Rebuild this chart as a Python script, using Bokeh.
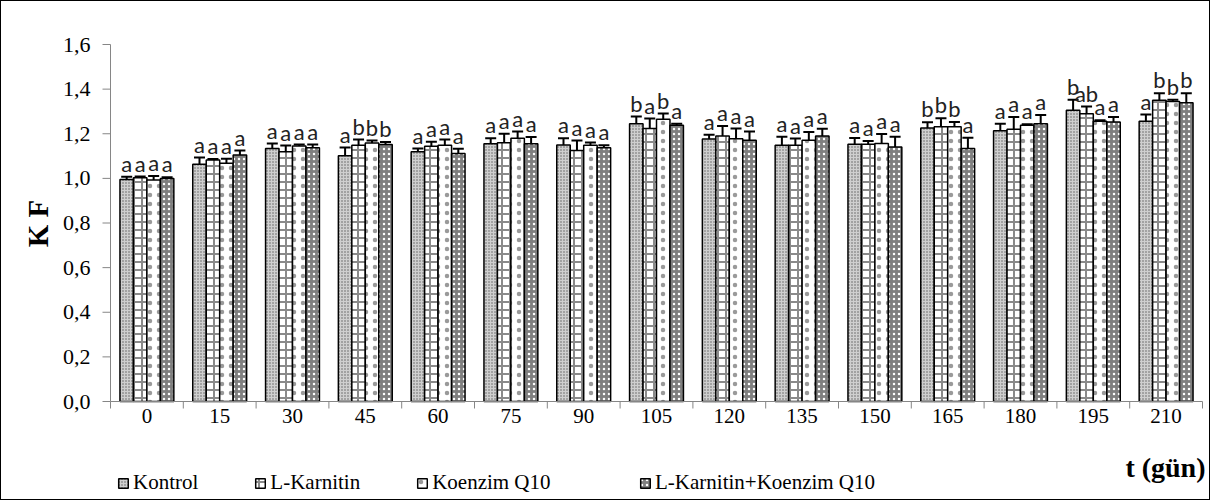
import math
from bokeh.plotting import figure
from bokeh.models import ColumnDataSource, Whisker, TeeHead, Legend
from bokeh.core.properties import value
from bokeh.embed import file_html
from bokeh.resources import INLINE

days = ["0", "15", "30", "45", "60", "75", "90", "105", "120", "135", "150", "165", "180", "195", "210"]
series_names = ["Kontrol", "L-Karnitin", "Koenzim Q10", "L-Karnitin+Koenzim Q10"]

kontrol = [0.995, 1.063, 1.134, 1.101, 1.119, 1.155, 1.150, 1.245, 1.176, 1.149, 1.153, 1.226, 1.213, 1.305, 1.256]
kontrol_sd = [0.012, 0.030, 0.022, 0.037, 0.015, 0.025, 0.030, 0.032, 0.019, 0.037, 0.028, 0.026, 0.032, 0.047, 0.030]
lkarnitin = [1.003, 1.082, 1.119, 1.149, 1.144, 1.160, 1.125, 1.223, 1.190, 1.149, 1.153, 1.231, 1.220, 1.290, 1.350]
lkarnitin_sd = [0.005, 0.005, 0.028, 0.025, 0.020, 0.040, 0.045, 0.045, 0.045, 0.030, 0.015, 0.039, 0.055, 0.032, 0.032]
koenzim = [0.993, 1.068, 1.145, 1.159, 1.149, 1.180, 1.149, 1.265, 1.178, 1.171, 1.156, 1.231, 1.238, 1.256, 1.345]
koenzim_sd = [0.018, 0.020, 0.007, 0.011, 0.025, 0.030, 0.012, 0.026, 0.045, 0.037, 0.043, 0.022, 0.005, 0.004, 0.007]
combo = [1.000, 1.105, 1.137, 1.152, 1.111, 1.155, 1.137, 1.238, 1.171, 1.190, 1.141, 1.134, 1.245, 1.253, 1.339]
combo_sd = [0.005, 0.020, 0.015, 0.011, 0.022, 0.030, 0.011, 0.007, 0.039, 0.032, 0.045, 0.048, 0.039, 0.022, 0.043]

letters_kontrol = ["a", "a", "a", "a", "a", "a", "a", "b", "a", "a", "a", "b", "a", "b", "a"]
letters_lkarnitin = ["a", "a", "a", "b", "a", "a", "a", "a", "a", "a", "a", "b", "a", "ab", "b"]
letters_koenzim = ["a", "a", "a", "b", "a", "a", "a", "b", "a", "a", "a", "b", "a", "a", "b"]
letters_combo = ["a", "a", "a", "b", "a", "a", "a", "a", "a", "a", "a", "a", "a", "a", "b"]

y_ticks = [0.0, 0.2, 0.4, 0.6, 0.8, 1.0, 1.2, 1.4, 1.6]
y_tick_labels = ["0,0", "0,2", "0,4", "0,6", "0,8", "1,0", "1,2", "1,4", "1,6"]

series = [
    (kontrol, kontrol_sd, letters_kontrol),
    (lkarnitin, lkarnitin_sd, letters_lkarnitin),
    (koenzim, koenzim_sd, letters_koenzim),
    (combo, combo_sd, letters_combo),
]
styles = [
    dict(fill_color="#cfcfcf", hatch_pattern="dot", hatch_color="#5f5f5f", hatch_scale=3, hatch_weight=1.5),
    dict(fill_color="white", hatch_pattern="cross", hatch_color="#8a8a8a", hatch_scale=8, hatch_weight=2),
    dict(fill_color="white", hatch_pattern="dot", hatch_color="#9a9a9a", hatch_scale=9, hatch_weight=1.6),
    dict(fill_color="#7f7f7f", hatch_pattern="dot", hatch_color="white", hatch_scale=5, hatch_weight=1.8),
]

# geometry: the whole figure is the plotting frame, axes are drawn through the data scales
W, H = 1210, 500
AX_LEFT_PX = 109      # x pixel of the y axis
ZERO_PX = 400         # y pixel (from top) of value 0
TOP_PX = 43           # y pixel (from top) of value 1.6
n = len(days)
px_x = 72.8
px_y = (ZERO_PX - TOP_PX) / 1.6
x0 = -AX_LEFT_PX / px_x
x1 = (W - AX_LEFT_PX) / px_x
y1 = 1.6 + TOP_PX / px_y
y0 = -(H - ZERO_PX) / px_y

p = figure(width=W, height=H, output_backend="svg", toolbar_location=None,
           x_range=(x0, x1), y_range=(y0, y1),
           min_border_left=0, min_border_right=0, min_border_top=0, min_border_bottom=0)
p.styles = {"border": "1px solid black"}
p.outline_line_color = None
p.xgrid.visible = False
p.ygrid.visible = False
p.xaxis.visible = False
p.yaxis.visible = False

bw = 0.185
centers = [i + 0.5 for i in range(n)]
renderers = []
for j, ((vals, sds, lets), st) in enumerate(zip(series, styles)):
    xs = [c + (j - 1.5) * bw for c in centers]
    src = ColumnDataSource(dict(
        x=xs, top=vals,
        upper=[v + s for v, s in zip(vals, sds)],
        lower=[v - s for v, s in zip(vals, sds)],
        ly=[v + s + 0.06 for v, s in zip(vals, sds)],
        lt=lets,
    ))
    r = p.vbar(x="x", top="top", width=bw, bottom=0, source=src,
               line_color="black", line_width=1.5, **st)
    renderers.append(r)
    w = Whisker(base="x", upper="upper", lower="lower", source=src,
                line_color="black", line_width=2,
                upper_head=TeeHead(size=11, line_color="black", line_width=2),
                lower_head=TeeHead(size=11, line_color="black", line_width=2))
    p.add_layout(w)
    p.text(x="x", y="ly", text="lt", source=src, text_align="center", text_baseline="alphabetic",
           text_font=value("Lato"), text_font_size="22px", text_color="#222222")

axis_color = "#868686"
# x axis
xtick = 7 / px_y
p.segment(x0=[0], y0=[0], x1=[n], y1=[0], line_color=axis_color, line_width=1)
bounds = list(range(n + 1))
p.segment(x0=bounds, y0=[0] * len(bounds), x1=bounds, y1=[-xtick] * len(bounds),
          line_color=axis_color, line_width=1)
p.text(x=centers, y=[-0.032] * n, text=days, text_align="center", text_baseline="top",
       text_font=value("Liberation Serif"), text_font_size="21px", text_color="black")

# y axis
ytick = 8 / px_x
p.segment(x0=[0], y0=[0], x1=[0], y1=[1.6], line_color=axis_color, line_width=1)
p.segment(x0=[-ytick] * len(y_ticks), y0=y_ticks, x1=[0] * len(y_ticks), y1=y_ticks,
          line_color=axis_color, line_width=1)
p.text(x=[-20 / px_x] * len(y_ticks), y=y_ticks, text=y_tick_labels, text_align="right",
       text_baseline="middle", text_font=value("Liberation Serif"), text_font_size="22px",
       text_color="black")
p.text(x=[-73 / px_x], y=[(ZERO_PX - 222) / px_y], text=["K F"], angle=math.pi / 2,
       text_align="center", text_baseline="middle", text_font=value("Liberation Serif"),
       text_font_style="bold", text_font_size="29px", text_color="black")

legend_kw = dict(orientation="horizontal", glyph_width=12, glyph_height=12, label_standoff=4,
                 spacing=56, padding=0, margin=0, border_line_color=None, background_fill_alpha=0,
                 label_text_font="Liberation Serif", label_text_font_size="21px",
                 label_text_color="black")
leg1 = Legend(items=[(series_names[k], [renderers[k]]) for k in range(3)], location=(116, 6), **legend_kw)
leg2 = Legend(items=[(series_names[3], [renderers[3]])], location=(638, 6), **legend_kw)
p.add_layout(leg1, "center")
p.add_layout(leg2, "center")

p.text(x=[(1204 - AX_LEFT_PX) / px_x], y=[-(466 - ZERO_PX) / px_y], text=["t (gün)"], text_align="right",
       text_baseline="middle", text_font=value("Liberation Serif"), text_font_style="bold",
       text_font_size="28px", text_color="black")

open("out.html", "w").write(file_html(p, INLINE))
